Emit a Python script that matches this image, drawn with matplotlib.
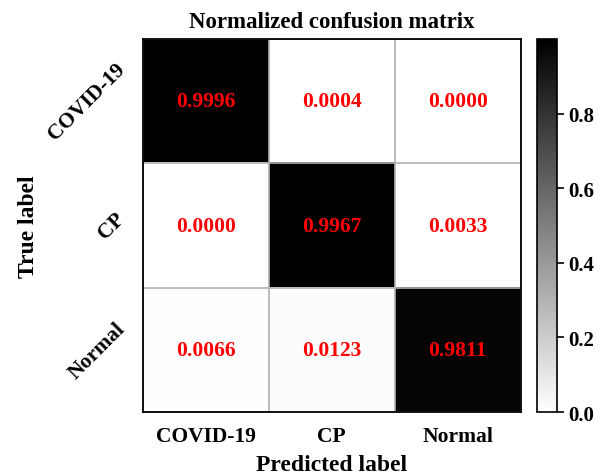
import matplotlib
matplotlib.use('Agg')
import matplotlib.pyplot as plt
import numpy as np

classes = ['COVID-19', 'CP', 'Normal']
cm = np.array([[0.9996, 0.0004, 0.0000],
               [0.0000, 0.9967, 0.0033],
               [0.0066, 0.0123, 0.9811]])

plt.rcParams['font.family'] = ['Liberation Serif', 'DejaVu Serif']
plt.rcParams['font.weight'] = 'bold'

fig = plt.figure(figsize=(6, 4.77), dpi=100)
ax = fig.add_axes([0.238, 0.134, 0.630, 0.782])
cax = fig.add_axes([0.895, 0.134, 0.033, 0.782])

im = ax.imshow(cm, interpolation='nearest', cmap='gray_r', aspect='auto')
cb = fig.colorbar(im, cax=cax)
cb.set_ticks([0.0, 0.2, 0.4, 0.6, 0.8])
cb.ax.tick_params(labelsize=15, width=1.2, length=5)
for l in cb.ax.get_yticklabels():
    l.set_fontweight('bold')
cb.outline.set_linewidth(1.2)

ax.set_title('Normalized confusion matrix', fontsize=16.5, fontweight='bold', pad=9)
ax.set_xticks(np.arange(len(classes)))
ax.set_yticks(np.arange(len(classes)))
ax.set_xticklabels(classes, fontsize=15.5, fontweight='bold')
ax.set_yticklabels(classes, fontsize=15.5, fontweight='bold', rotation=45, va='center')
ax.tick_params(length=0, pad=10)
ax.set_xticks(np.arange(-0.5, 3, 1), minor=True)
ax.set_yticks(np.arange(-0.5, 3, 1), minor=True)
ax.grid(which='minor', color='#b0b0b0', linewidth=1.2)
ax.tick_params(which='minor', length=0)
for s in ax.spines.values():
    s.set_linewidth(1.3)

for i in range(cm.shape[0]):
    for j in range(cm.shape[1]):
        ax.text(j, i, '%.4f' % cm[i, j], ha='center', va='center',
                color='red', fontsize=15.5, fontweight='bold')

ax.set_xlabel('Predicted label', fontsize=17, fontweight='bold', labelpad=6)
ax.set_ylabel('True label', fontsize=17, fontweight='bold', labelpad=4)

fig.savefig('out.png', dpi=100)
